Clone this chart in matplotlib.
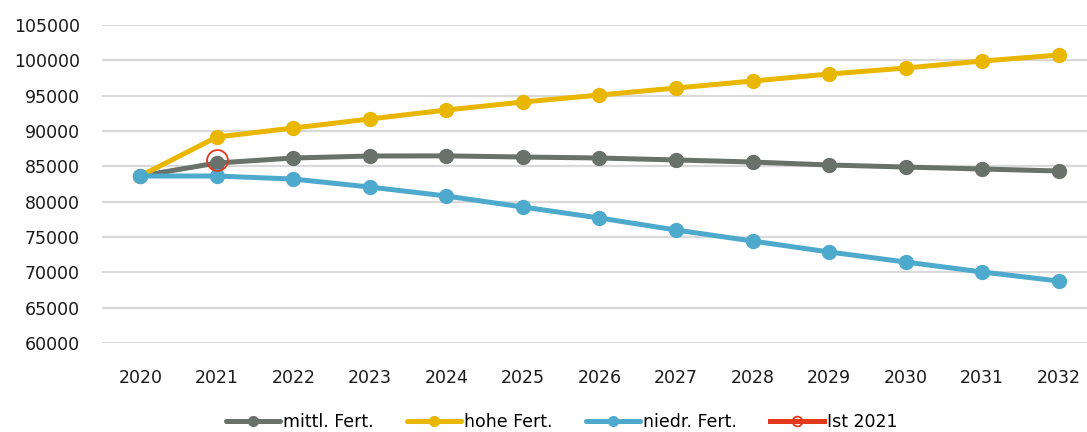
import matplotlib.pyplot as plt

years = ['2020', '2021', '2022', '2023', '2024', '2025', '2026',
         '2027', '2028', '2029', '2030', '2031', '2032']
mittl = [83630, 85470, 86180, 86460, 86480, 86320, 86180,
         85900, 85610, 85190, 84900, 84620, 84340]
hohe = [83630, 89150, 90420, 91700, 92970, 94100, 95090,
        96080, 97070, 98060, 98910, 99900, 100750]
niedr = [83630, 83630, 83200, 82070, 80800, 79240, 77690,
         75990, 74430, 72880, 71460, 70050, 68770]
ist_year = 1
ist_value = 85900

c_gray = '#68716a'
c_yellow = '#e9b600'
c_blue = '#4eaacd'
c_red = '#e2391d'

fig = plt.figure(figsize=(10.87, 4.32), dpi=100)
ax = fig.add_axes([102 / 1087, 89 / 432, 985 / 1087, 318 / 432])

x = list(range(len(years)))
kw = dict(lw=3.6, marker='o', ms=10, solid_capstyle='round')
ax.plot(x, mittl, color=c_gray, label='mittl. Fert.', zorder=3, **kw)
ax.plot(x, hohe, color=c_yellow, label='hohe Fert.', zorder=3, **kw)
ax.plot(x, niedr, color=c_blue, label='niedr. Fert.', zorder=4, **kw)
ax.plot([ist_year], [ist_value], color=c_red, lw=3.6, marker='o', ms=15,
        mfc='none', mew=1.3, label='Ist 2021', zorder=5)

ax.set_ylim(60000, 105000)
ax.set_xlim(-0.5, 12.37)
ax.set_yticks(range(60000, 105001, 5000))
ax.set_xticks(x)
ax.set_xticklabels(years)
ax.grid(axis='y', color='#d9d9d9', lw=1.6)
ax.set_axisbelow(True)
for s in ax.spines.values():
    s.set_visible(False)
ax.tick_params(length=0, labelsize=12.5, colors='#1a1a1a')
ax.tick_params(axis='x', pad=19)
ax.tick_params(axis='y', pad=16)

leg = fig.legend(loc='center', bbox_to_anchor=(562 / 1087, 10 / 432),
                 ncol=4, frameon=False, fontsize=12.5, handlelength=3.1,
                 handletextpad=0.2, columnspacing=1.9)
for h in leg.legend_handles:
    h.set_markersize(7)
    h.set_linewidth(3.6)
leg.legend_handles[3].set_markersize(7)
for line in ax.get_lines():
    line.set_clip_on(False)

fig.savefig('out.png', dpi=100)
